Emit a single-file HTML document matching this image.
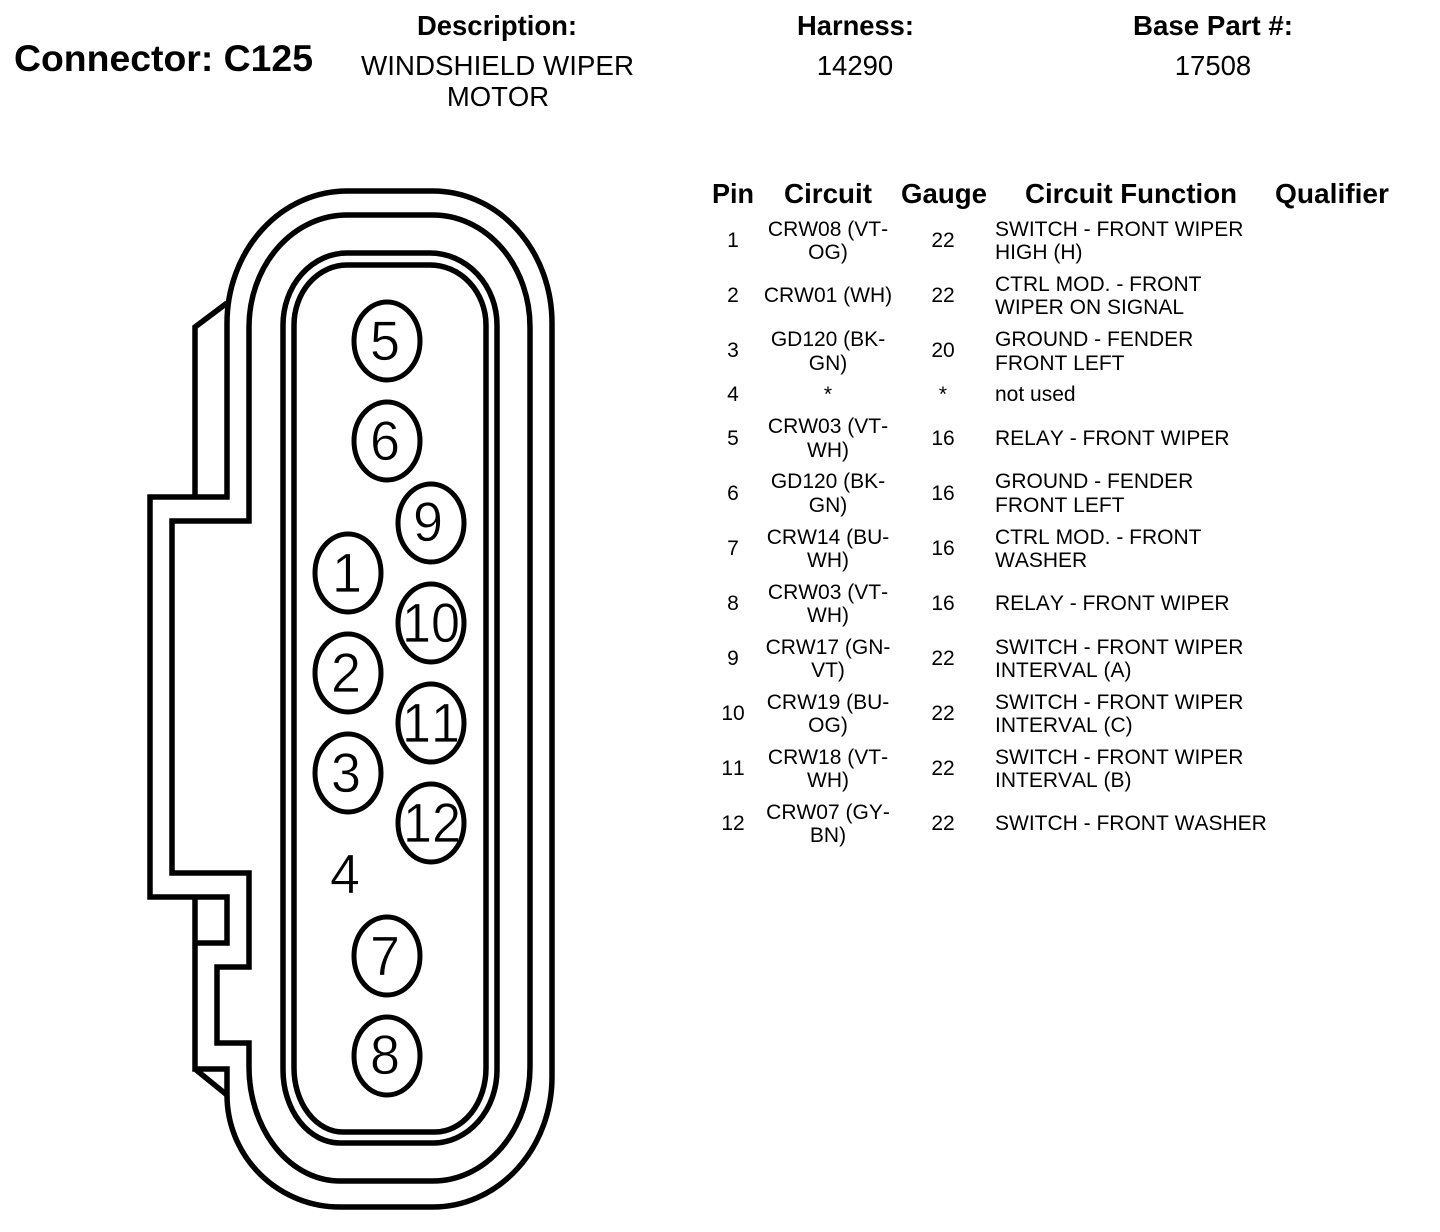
<!DOCTYPE html>
<html><head><meta charset="utf-8"><style>
html,body{margin:0;padding:0;background:#fff;width:1440px;height:1232px;overflow:hidden}
svg{display:block}
text{font-family:"Liberation Sans",sans-serif;fill:#000;font-kerning:none}
.h{font-weight:bold;font-size:27.4px;text-anchor:middle}
.v{font-size:27.5px;text-anchor:middle}
.c{font-size:21px;text-anchor:middle}
.l{font-size:21px}
.d{font-size:56px;text-anchor:middle;stroke:#fff;stroke-width:.7}
path,line{fill:none;stroke:#000;stroke-width:5.5}
ellipse{fill:none;stroke:#000;stroke-width:5}
</style></head><body>
<svg width="1440" height="1232" viewBox="0 0 1440 1232" xmlns="http://www.w3.org/2000/svg">
<text x="14" y="71" style="font-weight:bold;font-size:37px" textLength="299" lengthAdjust="spacingAndGlyphs">Connector: C125</text>
<text class="h" x="497" y="35" textLength="160" lengthAdjust="spacingAndGlyphs">Description:</text>
<text class="v" x="497.5" y="75" textLength="273" lengthAdjust="spacingAndGlyphs">WINDSHIELD WIPER</text>
<text class="v" x="498" y="106">MOTOR</text>
<text class="h" x="855.5" y="35" textLength="117" lengthAdjust="spacingAndGlyphs">Harness:</text>
<text class="v" x="855" y="75">14290</text>
<text class="h" x="1213" y="35" textLength="160" lengthAdjust="spacingAndGlyphs">Base Part #:</text>
<text class="v" x="1213" y="75">17508</text>

<path d="M227 323A120 132 0 0 1 347 191H433A119 132 0 0 1 552 323V1077A119 130 0 0 1 433 1207H340A113 112 0 0 1 227 1095"/>
<path d="M227 323V497H150V897H227V943H195"/>
<path d="M195 497V327L227 303M195 897V1069H227V1095M195 1069L227 1095"/>
<path d="M249 327A98 112 0 0 1 347 215H433A97 112 0 0 1 530 327V1067A97 114 0 0 1 433 1181H340A91 114 0 0 1 249 1067V1043H217V967H249V873H172V521H249Z"/>
<path d="M283 325A64 72 0 0 1 347 253H430A67 72 0 0 1 497 325V1070A64 73 0 0 1 433 1143H340A57 73 0 0 1 283 1070Z"/>
<path d="M294 325A53 60 0 0 1 347 265H430A56 60 0 0 1 486 325V1068A51 64 0 0 1 435 1132H343A49 64 0 0 1 294 1068Z"/>

<text class="d" x="385" y="360" textLength="30" lengthAdjust="spacingAndGlyphs">5</text>
<text class="d" x="385" y="460" textLength="30" lengthAdjust="spacingAndGlyphs">6</text>
<text class="d" x="428" y="541" textLength="30" lengthAdjust="spacingAndGlyphs">9</text>
<text class="d" x="347" y="592" textLength="30" lengthAdjust="spacingAndGlyphs">1</text>
<text class="d" x="431" y="642" textLength="58" lengthAdjust="spacingAndGlyphs">10</text>
<text class="d" x="346" y="692" textLength="30" lengthAdjust="spacingAndGlyphs">2</text>
<text class="d" x="431" y="742" textLength="58" lengthAdjust="spacingAndGlyphs">11</text>
<text class="d" x="346" y="792" textLength="30" lengthAdjust="spacingAndGlyphs">3</text>
<text class="d" x="432" y="842" textLength="58" lengthAdjust="spacingAndGlyphs">12</text>
<text class="d" x="345" y="893" textLength="30" lengthAdjust="spacingAndGlyphs">4</text>
<text class="d" x="385" y="975" textLength="30" lengthAdjust="spacingAndGlyphs">7</text>
<text class="d" x="385" y="1074" textLength="30" lengthAdjust="spacingAndGlyphs">8</text>
<ellipse cx="387" cy="341" rx="33" ry="39"/>
<ellipse cx="387" cy="441" rx="33" ry="39"/>
<ellipse cx="431" cy="523" rx="33" ry="39"/>
<ellipse cx="348" cy="573" rx="33" ry="39"/>
<ellipse cx="431" cy="623" rx="33" ry="39"/>
<ellipse cx="348" cy="673" rx="33" ry="39"/>
<ellipse cx="431" cy="723" rx="33" ry="39"/>
<ellipse cx="348" cy="773" rx="33" ry="39"/>
<ellipse cx="431" cy="823" rx="33" ry="39"/>
<ellipse cx="387" cy="956" rx="33" ry="39"/>
<ellipse cx="387" cy="1056" rx="33" ry="39"/>

<text class="h" x="733" y="203" textLength="42" lengthAdjust="spacingAndGlyphs">Pin</text>
<text class="h" x="828" y="203" textLength="88" lengthAdjust="spacingAndGlyphs">Circuit</text>
<text class="h" x="944" y="203" textLength="86" lengthAdjust="spacingAndGlyphs">Gauge</text>
<text class="h" x="1131" y="203" textLength="212" lengthAdjust="spacingAndGlyphs">Circuit Function</text>
<text class="h" x="1332" y="203" textLength="114" lengthAdjust="spacingAndGlyphs">Qualifier</text>

<g transform="translate(0,-1)">
<text class="c" x="733" y="248">1</text><text class="c" x="828" y="237">CRW08 (VT-</text><text class="c" x="828" y="260">OG)</text><text class="c" x="943" y="248">22</text><text class="l" x="995" y="237">SWITCH - FRONT WIPER</text><text class="l" x="995" y="260">HIGH (H)</text>
<text class="c" x="733" y="303">2</text><text class="c" x="828" y="303">CRW01 (WH)</text><text class="c" x="943" y="303">22</text><text class="l" x="995" y="292">CTRL MOD. - FRONT</text><text class="l" x="995" y="315">WIPER ON SIGNAL</text>
<text class="c" x="733" y="358">3</text><text class="c" x="828" y="347">GD120 (BK-</text><text class="c" x="828" y="371">GN)</text><text class="c" x="943" y="358">20</text><text class="l" x="995" y="347">GROUND - FENDER</text><text class="l" x="995" y="371">FRONT LEFT</text>
<text class="c" x="733" y="402">4</text><text class="c" x="828" y="402">*</text><text class="c" x="943" y="402">*</text><text class="l" x="995" y="402">not used</text>
<text class="c" x="733" y="446">5</text><text class="c" x="828" y="434">CRW03 (VT-</text><text class="c" x="828" y="458">WH)</text><text class="c" x="943" y="446">16</text><text class="l" x="995" y="446">RELAY - FRONT WIPER</text>
<text class="c" x="733" y="501">6</text><text class="c" x="828" y="489">GD120 (BK-</text><text class="c" x="828" y="513">GN)</text><text class="c" x="943" y="501">16</text><text class="l" x="995" y="489">GROUND - FENDER</text><text class="l" x="995" y="513">FRONT LEFT</text>
<text class="c" x="733" y="556">7</text><text class="c" x="828" y="545">CRW14 (BU-</text><text class="c" x="828" y="568">WH)</text><text class="c" x="943" y="556">16</text><text class="l" x="995" y="545">CTRL MOD. - FRONT</text><text class="l" x="995" y="568">WASHER</text>
<text class="c" x="733" y="611">8</text><text class="c" x="828" y="600">CRW03 (VT-</text><text class="c" x="828" y="623">WH)</text><text class="c" x="943" y="611">16</text><text class="l" x="995" y="611">RELAY - FRONT WIPER</text>
<text class="c" x="733" y="666">9</text><text class="c" x="828" y="655">CRW17 (GN-</text><text class="c" x="828" y="678">VT)</text><text class="c" x="943" y="666">22</text><text class="l" x="995" y="655">SWITCH - FRONT WIPER</text><text class="l" x="995" y="678">INTERVAL (A)</text>
<text class="c" x="733" y="721">10</text><text class="c" x="828" y="710">CRW19 (BU-</text><text class="c" x="828" y="733">OG)</text><text class="c" x="943" y="721">22</text><text class="l" x="995" y="710">SWITCH - FRONT WIPER</text><text class="l" x="995" y="733">INTERVAL (C)</text>
<text class="c" x="733" y="776">11</text><text class="c" x="828" y="765">CRW18 (VT-</text><text class="c" x="828" y="788">WH)</text><text class="c" x="943" y="776">22</text><text class="l" x="995" y="765">SWITCH - FRONT WIPER</text><text class="l" x="995" y="788">INTERVAL (B)</text>
<text class="c" x="733" y="831">12</text><text class="c" x="828" y="820">CRW07 (GY-</text><text class="c" x="828" y="843">BN)</text><text class="c" x="943" y="831">22</text><text class="l" x="995" y="831">SWITCH - FRONT WASHER</text>
</g>
</svg>
</body></html>
